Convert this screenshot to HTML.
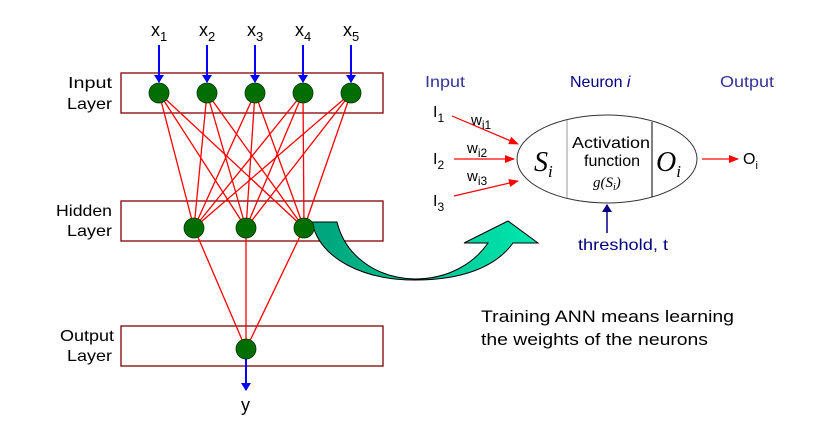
<!DOCTYPE html>
<html><head><style>body{margin:0;background:#fff}svg{display:block}</style></head><body>
<svg width="835" height="446" viewBox="0 0 835 446" xmlns="http://www.w3.org/2000/svg" font-family="Liberation Sans, sans-serif">
<defs>
<marker id="bh" markerWidth="8" markerHeight="10" refX="7" refY="5" orient="auto" markerUnits="userSpaceOnUse"><path d="M0,0 L8,5 L0,10 z" fill="#0000ff"/></marker>
<marker id="rh" markerWidth="10" markerHeight="8" refX="9" refY="4" orient="auto" markerUnits="userSpaceOnUse"><path d="M0,0 L10,4 L0,8 z" fill="#ff0000"/></marker>
<marker id="nh" markerWidth="8" markerHeight="10" refX="7" refY="5" orient="auto" markerUnits="userSpaceOnUse"><path d="M0,0 L8,5 L0,10 z" fill="#000080"/></marker>
<linearGradient id="g" x1="0" x2="1" y1="0" y2="0"><stop offset="0" stop-color="#00a27a"/><stop offset="1" stop-color="#00e8b0"/></linearGradient>
</defs>
<g fill="none" stroke="#800000" stroke-width="1.3">
<rect x="121" y="73" width="262" height="40"/>
<rect x="121" y="201" width="262" height="40"/>
<rect x="121" y="326" width="262" height="40"/>
</g>
<g font-size="16" fill="#000" lengthAdjust="spacingAndGlyphs">
<text x="68" y="88" textLength="44" lengthAdjust="spacingAndGlyphs">Input</text><text x="67" y="109" textLength="45" lengthAdjust="spacingAndGlyphs">Layer</text>
<text x="56" y="216" textLength="56" lengthAdjust="spacingAndGlyphs">Hidden</text><text x="67" y="236" textLength="45" lengthAdjust="spacingAndGlyphs">Layer</text>
<text x="60" y="341" textLength="54" lengthAdjust="spacingAndGlyphs">Output</text><text x="67" y="361" textLength="45" lengthAdjust="spacingAndGlyphs">Layer</text>
</g>
<g stroke="#ff0000" stroke-width="1.3">
<line x1="159" y1="93" x2="194" y2="228"/><line x1="159" y1="93" x2="246" y2="228"/><line x1="159" y1="93" x2="304" y2="228"/>
<line x1="207" y1="93" x2="194" y2="228"/><line x1="207" y1="93" x2="246" y2="228"/><line x1="207" y1="93" x2="304" y2="228"/>
<line x1="255" y1="93" x2="194" y2="228"/><line x1="255" y1="93" x2="246" y2="228"/><line x1="255" y1="93" x2="304" y2="228"/>
<line x1="303" y1="93" x2="194" y2="228"/><line x1="303" y1="93" x2="246" y2="228"/><line x1="303" y1="93" x2="304" y2="228"/>
<line x1="351" y1="93" x2="194" y2="228"/><line x1="351" y1="93" x2="246" y2="228"/><line x1="351" y1="93" x2="304" y2="228"/>
<line x1="194" y1="228" x2="246" y2="349"/><line x1="246" y1="228" x2="246" y2="349"/><line x1="304" y1="228" x2="246" y2="349"/>
</g>
<g stroke="#0000ff" stroke-width="2">
<line x1="159" y1="45" x2="159" y2="82" marker-end="url(#bh)"/>
<line x1="207" y1="45" x2="207" y2="82" marker-end="url(#bh)"/>
<line x1="255" y1="45" x2="255" y2="82" marker-end="url(#bh)"/>
<line x1="303" y1="45" x2="303" y2="82" marker-end="url(#bh)"/>
<line x1="351" y1="45" x2="351" y2="82" marker-end="url(#bh)"/>
<line x1="246" y1="359" x2="246" y2="390" marker-end="url(#bh)"/>
</g>
<g font-size="18" fill="#000">
<text x="151" y="36">x<tspan font-size="13" dy="5">1</tspan></text>
<text x="199" y="36">x<tspan font-size="13" dy="5">2</tspan></text>
<text x="247" y="36">x<tspan font-size="13" dy="5">3</tspan></text>
<text x="295" y="36">x<tspan font-size="13" dy="5">4</tspan></text>
<text x="343" y="36">x<tspan font-size="13" dy="5">5</tspan></text>
<text x="241" y="411">y</text>
</g>
<path d="M312,222 L337,222 C345,255 375,278 415,279 C450,279 475,262 488,243 L464,243 L508,221 L538,243 L513,243 C495,268 460,280 415,280 C365,280 320,260 312,222 Z" fill="url(#g)" stroke="#000" stroke-width="1"/>
<g fill="#006e00" stroke="#003300" stroke-width="0.8">
<circle cx="159" cy="93" r="10"/><circle cx="207" cy="93" r="10"/><circle cx="255" cy="93" r="10"/><circle cx="303" cy="93" r="10"/><circle cx="351" cy="93" r="10"/>
<circle cx="194" cy="228" r="10"/><circle cx="246" cy="228" r="10"/><circle cx="304" cy="228" r="10"/>
<circle cx="246" cy="349" r="10"/>
</g>
<g font-size="16" fill="#333399">
<text x="425" y="87" textLength="40" lengthAdjust="spacingAndGlyphs">Input</text>
<text x="570" y="87" fill="#000080">Neuron <tspan font-style="italic">i</tspan></text>
<text x="720" y="87" textLength="54" lengthAdjust="spacingAndGlyphs">Output</text>
</g>
<ellipse cx="607" cy="159" rx="90" ry="44" fill="none" stroke="#333" stroke-width="1"/>
<line x1="567" y1="120" x2="567" y2="198" stroke="#999" stroke-width="1"/>
<line x1="652" y1="122" x2="652" y2="197" stroke="#000" stroke-width="1"/>
<g stroke="#ff0000" stroke-width="1.2">
<line x1="452" y1="116" x2="518" y2="144" marker-end="url(#rh)"/>
<line x1="454" y1="159" x2="514" y2="159" marker-end="url(#rh)"/>
<line x1="454" y1="196" x2="518" y2="181" marker-end="url(#rh)"/>
<line x1="702" y1="159" x2="738" y2="159" marker-end="url(#rh)"/>
</g>
<line x1="607" y1="233" x2="607" y2="205" stroke="#000080" stroke-width="1.5" marker-end="url(#nh)"/>
<g font-size="16" fill="#000">
<text x="433" y="117">I<tspan font-size="12" dy="5">1</tspan></text>
<text x="433" y="164">I<tspan font-size="12" dy="5">2</tspan></text>
<text x="433" y="206">I<tspan font-size="12" dy="5">3</tspan></text>
<text x="471" y="125" font-size="15">w<tspan font-size="12" dy="4">i1</tspan></text>
<text x="467" y="153" font-size="15">w<tspan font-size="12" dy="4">i2</tspan></text>
<text x="467" y="181" font-size="15">w<tspan font-size="12" dy="4">i3</tspan></text>
<text x="743" y="164">O<tspan font-size="11" dy="5">i</tspan></text>
<text x="572" y="148" font-size="16" textLength="78" lengthAdjust="spacingAndGlyphs">Activation</text>
<text x="584" y="166" font-size="16" textLength="56" lengthAdjust="spacingAndGlyphs">function</text>
<text x="593" y="187" font-family="Liberation Serif, serif" font-style="italic" font-size="15">g(S<tspan font-size="10" dy="3">i</tspan><tspan dy="-3">)</tspan></text>
<text x="534" y="171" font-family="Liberation Serif, serif" font-style="italic" font-size="28">S<tspan font-size="17" dy="6">i</tspan></text>
<text x="656" y="171" font-family="Liberation Serif, serif" font-style="italic" font-size="28">O<tspan font-size="17" dy="6">i</tspan></text>
<text x="578" y="250" fill="#000080" font-size="16" textLength="90" lengthAdjust="spacingAndGlyphs">threshold, t</text>
<text x="481" y="322" font-size="17" textLength="253" lengthAdjust="spacingAndGlyphs">Training ANN means learning</text>
<text x="481" y="345" font-size="17" textLength="227" lengthAdjust="spacingAndGlyphs">the weights of the neurons</text>
</g>
</svg>
</body></html>
